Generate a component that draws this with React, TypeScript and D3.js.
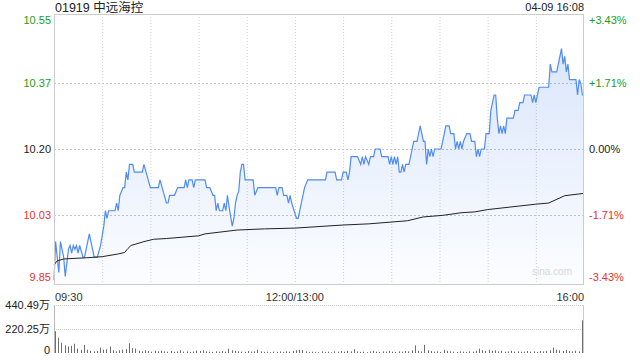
import React from 'react';
import * as d3 from 'd3';

const TITLE = '01919 中远海控';
const STAMP = '04-09 16:08';
const PREV_CLOSE = 10.2;
const RANGE_PCT = 0.0343;
const PRICE_TICKS = [10.55, 10.37, 10.2, 10.03, 9.85];
const PRICE_LABELS = ['10.55', '10.37', '10.20', '10.03', '9.85'];
const PCT_LABELS = ['+3.43%', '+1.71%', '0.00%', '-1.71%', '-3.43%'];
const TIME_LABELS = ['09:30', '12:00/13:00', '16:00'];
const TIME_LABEL_MIN = [0, 150, 330];
const TOTAL_MIN = 330;
const VOL_LABELS = ['440.49万', '220.25万', '0'];
const VOL_TICKS = [440.49, 220.25, 0];

const priceMinutes = [
  0, 1, 3, 4, 5, 6, 7, 9, 10, 11, 12, 13, 14, 15, 16, 18, 19, 22, 25, 27, 29, 31, 32, 33, 34, 38, 39, 40, 41, 43,
  44, 45, 46, 47, 49, 50, 55, 56, 60, 65, 66, 68, 70, 71, 72, 75, 77, 81, 82, 83, 84, 86, 87, 88, 94, 95, 97, 99, 100, 101,
  102, 103, 105, 106, 107, 108, 109, 111, 112, 113, 114, 115, 116, 117, 118, 119, 124, 125, 127, 138, 139, 140, 142, 143, 145, 146, 147, 148, 151, 152,
  154, 156, 158, 169, 170, 175, 176, 179, 180, 182, 183, 184, 185, 189, 191, 192, 193, 194, 196, 197, 199, 200, 203, 204, 208, 209, 210, 211, 212, 213,
  214, 215, 216, 217, 218, 219, 221, 223, 224, 226, 227, 228, 229, 230, 231, 232, 233, 234, 235, 236, 237, 241, 242, 244, 246, 247, 249, 250, 251, 252,
  253, 254, 255, 257, 259, 260, 262, 263, 264, 265, 266, 268, 269, 271, 272, 274, 275, 276, 277, 278, 279, 280, 281, 282, 286, 287, 289, 290, 292, 293,
  297, 298, 299, 300, 301, 302, 308, 309, 310, 313, 314, 315, 316, 317, 318, 319, 320, 321, 325, 326, 327, 328, 329, 330,
];
const prices = [
  9.86, 9.96, 9.88, 9.96, 9.94, 9.92, 9.87, 9.94, 9.95, 9.93, 9.95, 9.94, 9.95, 9.93, 9.95, 9.92, 9.92, 9.98, 9.92, 9.92, 9.95, 10.0, 10.04, 10.02, 10.04, 10.04, 10.06, 10.04, 10.08, 10.1,
  10.1, 10.14, 10.12, 10.16, 10.16, 10.14, 10.14, 10.16, 10.1, 10.1, 10.12, 10.09, 10.06, 10.06, 10.08, 10.08, 10.1, 10.1, 10.12, 10.1, 10.12, 10.12, 10.1, 10.12, 10.12, 10.1, 10.1, 10.08, 10.08, 10.04,
  10.06, 10.04, 10.04, 10.06, 10.04, 10.08, 10.05, 10.0, 10.02, 10.06, 10.08, 10.09, 10.14, 10.16, 10.16, 10.12, 10.12, 10.08, 10.1, 10.1, 10.08, 10.1, 10.1, 10.08, 10.08, 10.06, 10.08, 10.06, 10.02, 10.02,
  10.06, 10.1, 10.12, 10.12, 10.14, 10.14, 10.12, 10.12, 10.14, 10.14, 10.12, 10.14, 10.18, 10.18, 10.16, 10.18, 10.16, 10.18, 10.16, 10.18, 10.18, 10.2, 10.2, 10.18, 10.18, 10.16, 10.18, 10.16, 10.18, 10.16,
  10.18, 10.14, 10.14, 10.16, 10.14, 10.16, 10.16, 10.2, 10.22, 10.22, 10.24, 10.26, 10.24, 10.22, 10.22, 10.16, 10.2, 10.18, 10.2, 10.18, 10.2, 10.2, 10.22, 10.26, 10.26, 10.24, 10.24, 10.2, 10.22, 10.2,
  10.22, 10.2, 10.22, 10.24, 10.24, 10.22, 10.22, 10.18, 10.2, 10.18, 10.2, 10.2, 10.24, 10.24, 10.3, 10.34, 10.34, 10.28, 10.24, 10.26, 10.24, 10.26, 10.24, 10.28, 10.28, 10.3, 10.3, 10.32, 10.32, 10.34,
  10.34, 10.32, 10.34, 10.32, 10.34, 10.36, 10.36, 10.42, 10.4, 10.4, 10.42, 10.44, 10.46, 10.42, 10.44, 10.4, 10.42, 10.38, 10.38, 10.34, 10.38, 10.37, 10.34, 10.34,
];

const avgMinutes = [0, 2, 6, 10, 20, 30, 40, 44, 46, 48, 56, 62, 70, 90, 94, 114, 131, 150, 180, 196, 220, 230, 242, 254, 262, 270, 300, 308, 318, 330];
const avgPrices = [9.9, 9.91, 9.915, 9.916, 9.918, 9.921, 9.928, 9.932, 9.942, 9.95, 9.96, 9.966, 9.968, 9.975, 9.98, 9.99, 9.993, 9.995, 10.003, 10.006, 10.014, 10.024, 10.028, 10.035, 10.037, 10.043, 10.057, 10.06, 10.079, 10.085];

// volume (万) every 2 minutes from 09:30; last value is the closing auction
const VOL_STEP = 2;
const volumes = [
  200, 140, 95, 70, 60, 65, 85, 40, 30, 75, 30, 20, 15, 20, 50, 30, 35, 60, 25, 15,
  25, 30, 35, 90, 45, 40, 20, 15, 25, 18, 12, 20, 15, 22, 15, 12, 18, 10, 15, 25,
  12, 15, 10, 14, 22, 18, 25, 15, 12, 10, 15, 12, 18, 12, 40, 25, 20, 15, 12, 10,
  18, 12, 15, 30, 15, 10, 12, 8, 12, 10, 14, 10, 15, 12, 18, 25, 30, 28, 15, 10,
  12, 10, 8, 15, 10, 12, 8, 15, 12, 18, 12, 20, 15, 35, 15, 10, 12, 8, 15, 20,
  12, 10, 15, 12, 20, 12, 10, 15, 12, 18, 15, 25, 70, 20, 15, 75, 25, 20, 12, 15,
  10, 30, 20, 15, 12, 10, 15, 12, 10, 15, 12, 20, 40, 25, 20, 30, 22, 25, 15, 20,
  12, 15, 20, 12, 15, 10, 12, 18, 12, 15, 10, 18, 15, 20, 25, 50, 30, 25, 20, 28,
  18, 15, 22, 15, 20, 300,
];

const FONT = '"Liberation Sans", Arial, "Noto Sans CJK SC", sans-serif';
const GREEN = '#1a9c1a';
const RED = '#e8322f';
const DARK = '#222';

export default function App() {
  const W = 640, H = 360;
  const L = 54, R = 584, T = 14, B = 284;
  const VT = 305, VB = 353;

  const x = d3.scaleLinear().domain([0, TOTAL_MIN]).range([L, R]);
  const y = d3.scaleLinear().domain([PREV_CLOSE * (1 - RANGE_PCT), PREV_CLOSE * (1 + RANGE_PCT)]).range([B, T]);
  const vy = d3.scaleLinear().domain([0, VOL_TICKS[0]]).range([VB, VT]);

  const pts: [number, number][] = priceMinutes.map((m, i) => [m, prices[i]]);
  const avgPts: [number, number][] = avgMinutes.map((m, i) => [m, avgPrices[i]]);

  const line = d3.line<[number, number]>().x(d => x(d[0])).y(d => y(d[1]));
  const area = d3.area<[number, number]>().x(d => x(d[0])).y0(B).y1(d => y(d[1]));

  const vGrid = d3.range(30, TOTAL_MIN, 30);
  const hGrid = PRICE_TICKS.slice(1, 4);
  const labelColor = (i: number) => (i < 2 ? GREEN : i === 2 ? DARK : RED);
  const labelDy = (i: number) => (i === 0 ? 10 : i === 4 ? -3 : 4);

  return (
    <svg width={W} height={H} style={{ position: 'fixed', left: 0, top: 0, background: '#fff' }} fontFamily={FONT}>
      <defs>
        <linearGradient id="fillGrad" x1="0" y1="0" x2="0" y2="1">
          <stop offset="0%" stopColor="#5a8ff0" stopOpacity={0.22} />
          <stop offset="100%" stopColor="#5a8ff0" stopOpacity={0.02} />
        </linearGradient>
      </defs>

      <text x={L + 1} y={12} fontSize={12.5} fill="#222">{TITLE}</text>
      <text x={R} y={11} fontSize={11} fill="#222" textAnchor="end">{STAMP}</text>

      {/* main grid */}
      {vGrid.map(m => (
        <line key={'v' + m} x1={x(m) + 0.5} x2={x(m) + 0.5} y1={T} y2={B} stroke="#cfcfcf" strokeDasharray="1,2" />
      ))}
      {hGrid.map(p => (
        <line key={'h' + p} x1={L} x2={R} y1={Math.round(y(p)) + 0.5} y2={Math.round(y(p)) + 0.5} stroke="#c4c4c4" strokeDasharray="2,2" />
      ))}

      <path d={area(pts) || ''} fill="url(#fillGrad)" />
      <path d={line(pts) || ''} fill="none" stroke="#4f8cf2" strokeWidth={1.2} />
      <path d={line(avgPts) || ''} fill="none" stroke="#222" strokeWidth={1} />

      <text x={552} y={275} fontSize={10} fill="#d8d8d8" textAnchor="middle">sina.com</text>

      <rect x={L + 0.5} y={T + 0.5} width={R - L - 1} height={B - T} fill="none" stroke="#cccccc" />

      {PRICE_TICKS.map((p, i) => (
        <text key={'pl' + i} x={L - 3} y={y(p) + labelDy(i)} fontSize={11} textAnchor="end" fill={labelColor(i)}>{PRICE_LABELS[i]}</text>
      ))}
      {PRICE_TICKS.map((p, i) => (
        <text key={'pr' + i} x={R + 5} y={y(p) + labelDy(i)} fontSize={11} textAnchor="start" fill={labelColor(i)}>{PCT_LABELS[i]}</text>
      ))}

      {TIME_LABEL_MIN.map((m, i) => (
        <text key={'t' + i} x={x(m) + (i === 0 ? 1 : 0)} y={301} fontSize={11} fill="#333"
          textAnchor={i === 0 ? 'start' : i === 1 ? 'middle' : 'end'}>{TIME_LABELS[i]}</text>
      ))}

      {/* volume panel */}
      {VOL_TICKS.slice(0, 2).map(v => (
        <line key={'vg' + v} x1={L} x2={R} y1={Math.round(vy(v)) + 0.5} y2={Math.round(vy(v)) + 0.5} stroke="#cfcfcf" strokeDasharray="1,1" />
      ))}
      <line x1={L + 0.5} x2={L + 0.5} y1={VT} y2={VB} stroke="#bbbbbb" />
      <line x1={R - 0.5} x2={R - 0.5} y1={VT} y2={VB} stroke="#cccccc" />
      {volumes.map((v, i) => {
        const m = Math.min(i * VOL_STEP, TOTAL_MIN);
        const bx = Math.round(x(m));
        return <rect key={'b' + i} x={Math.min(bx + 1, R - 2)} y={vy(v)} width={1} height={VB - vy(v)} fill="#6e6e6e" />;
      })}
      {VOL_TICKS.map((v, i) => (
        <text key={'vl' + i} x={L - 4} y={vy(v) + (i === 2 ? 1 : 4)} fontSize={11} textAnchor="end" fill="#222">{VOL_LABELS[i]}</text>
      ))}
    </svg>
  );
}
